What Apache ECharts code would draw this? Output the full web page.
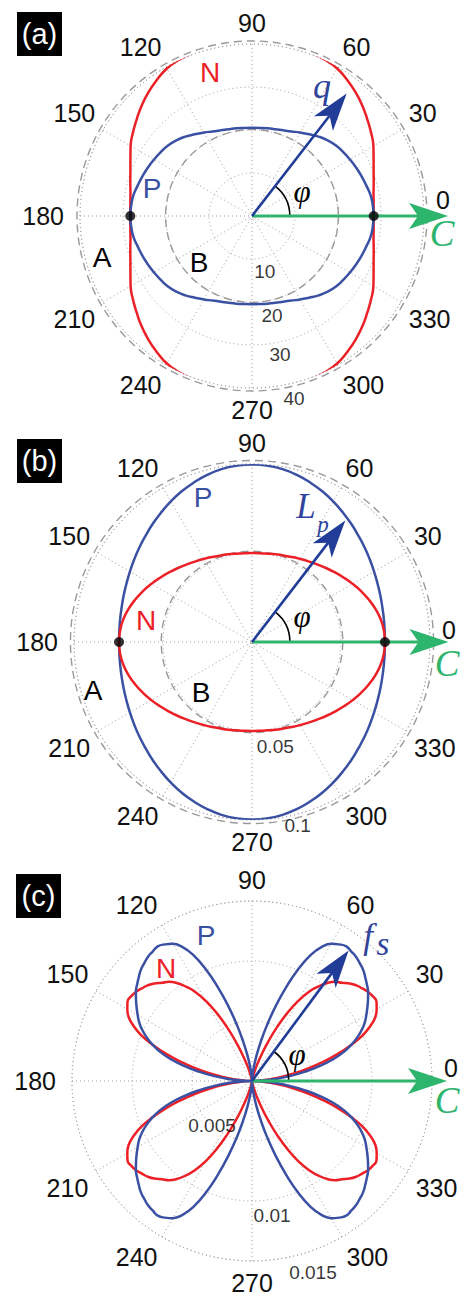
<!DOCTYPE html>
<html>
<head>
<meta charset="utf-8">
<script src="https://cdn.jsdelivr.net/npm/echarts@6/dist/echarts.min.js"></script>
<style>
  html, body { margin: 0; padding: 0; background: #fff; }
  #chart { width: 469px; height: 1297px; }
</style>
</head>
<body>
<div id="chart"></div>
<script>
// Sampling directions (degrees, measured from C) for panels (a) and (b)
const angles = [
  0, 5, 10, 15, 20, 25, 30, 35, 40, 45, 50, 55, 60, 65, 70, 75, 80, 85, 90,
  95, 100, 105, 110, 115, 120, 125, 130, 135, 140, 145, 150, 155, 160, 165, 170, 175, 180,
  185, 190, 195, 200, 205, 210, 215, 220, 225, 230, 235, 240, 245, 250, 255, 260, 265, 270,
  275, 280, 285, 290, 295, 300, 305, 310, 315, 320, 325, 330, 335, 340, 345, 350, 355, 360
];
// Finer directions for the four-lobed panel (c)
const anglesFine = [
  0, 2.5, 5, 7.5, 10, 12.5, 15, 17.5, 20, 22.5, 25, 27.5, 30, 32.5, 35, 37.5, 40, 42.5, 45,
  47.5, 50, 52.5, 55, 57.5, 60, 62.5, 65, 67.5, 70, 72.5, 75, 77.5, 80, 82.5, 85, 87.5, 90,
  92.5, 95, 97.5, 100, 102.5, 105, 107.5, 110, 112.5, 115, 117.5, 120, 122.5, 125, 127.5, 130, 132.5, 135,
  137.5, 140, 142.5, 145, 147.5, 150, 152.5, 155, 157.5, 160, 162.5, 165, 167.5, 170, 172.5, 175, 177.5, 180,
  182.5, 185, 187.5, 190, 192.5, 195, 197.5, 200, 202.5, 205, 207.5, 210, 212.5, 215, 217.5, 220, 222.5, 225,
  227.5, 230, 232.5, 235, 237.5, 240, 242.5, 245, 247.5, 250, 252.5, 255, 257.5, 260, 262.5, 265, 267.5, 270,
  272.5, 275, 277.5, 280, 282.5, 285, 287.5, 290, 292.5, 295, 297.5, 300, 302.5, 305, 307.5, 310, 312.5, 315,
  317.5, 320, 322.5, 325, 327.5, 330, 332.5, 335, 337.5, 340, 342.5, 345, 347.5, 350, 352.5, 355, 357.5, 360
];

// (a) wave vector q
const qN = [
  28.3, 28.4, 28.7, 29.3, 30.1, 31.2, 32.6, 33.8, 35.0, 36.3, 37.5, 38.6, 39.6, 40.1, 40.4, 40.6, 40.8, 40.9, 40.9,
  40.9, 40.8, 40.6, 40.4, 40.1, 39.6, 38.6, 37.5, 36.3, 35.0, 33.8, 32.6, 31.2, 30.1, 29.3, 28.7, 28.4, 28.3,
  28.4, 28.7, 29.3, 30.1, 31.2, 32.6, 33.8, 35.0, 36.3, 37.5, 38.6, 39.6, 40.1, 40.4, 40.6, 40.8, 40.9, 40.9,
  40.9, 40.8, 40.6, 40.4, 40.1, 39.6, 38.6, 37.5, 36.3, 35.0, 33.8, 32.6, 31.2, 30.1, 29.3, 28.7, 28.4, 28.3
];
const qP = [
  28.3, 28.2, 28.0, 27.5, 27.1, 26.7, 26.3, 25.9, 25.5, 24.9, 24.1, 23.2, 22.4, 21.7, 21.2, 20.9, 20.7, 20.55, 20.5,
  20.55, 20.7, 20.9, 21.2, 21.7, 22.4, 23.2, 24.1, 24.9, 25.5, 25.9, 26.3, 26.7, 27.1, 27.5, 28.0, 28.2, 28.3,
  28.2, 28.0, 27.5, 27.1, 26.7, 26.3, 25.9, 25.5, 24.9, 24.1, 23.2, 22.4, 21.7, 21.2, 20.9, 20.7, 20.55, 20.5,
  20.55, 20.7, 20.9, 21.2, 21.7, 22.4, 23.2, 24.1, 24.9, 25.5, 25.9, 26.3, 26.7, 27.1, 27.5, 28.0, 28.2, 28.3
];
const qRefA = 40.7;
const qRefB = 20.1;
const qCross = 28.3;
const qTicks = [10, 20, 30, 40];

// (b) L_p
const lN = [
  0.0747, 0.0744, 0.0734, 0.0718, 0.0698, 0.0676, 0.0653, 0.0630, 0.0608, 0.0588, 0.0569, 0.0553, 0.0539, 0.0527, 0.0517, 0.0510, 0.0504, 0.0501, 0.0500,
  0.0501, 0.0504, 0.0510, 0.0517, 0.0527, 0.0539, 0.0553, 0.0569, 0.0588, 0.0608, 0.0630, 0.0653, 0.0676, 0.0698, 0.0718, 0.0734, 0.0744, 0.0747,
  0.0744, 0.0734, 0.0718, 0.0698, 0.0676, 0.0653, 0.0630, 0.0608, 0.0588, 0.0569, 0.0553, 0.0539, 0.0527, 0.0517, 0.0510, 0.0504, 0.0501, 0.0500,
  0.0501, 0.0504, 0.0510, 0.0517, 0.0527, 0.0539, 0.0553, 0.0569, 0.0588, 0.0608, 0.0630, 0.0653, 0.0676, 0.0698, 0.0718, 0.0734, 0.0744, 0.0747
];
const lP = [
  0.0747, 0.0748, 0.0752, 0.0758, 0.0767, 0.0778, 0.0792, 0.0808, 0.0826, 0.0845, 0.0867, 0.0889, 0.0912, 0.0934, 0.0954, 0.0972, 0.0986, 0.0994, 0.0997,
  0.0994, 0.0986, 0.0972, 0.0954, 0.0934, 0.0912, 0.0889, 0.0867, 0.0845, 0.0826, 0.0808, 0.0792, 0.0778, 0.0767, 0.0758, 0.0752, 0.0748, 0.0747,
  0.0748, 0.0752, 0.0758, 0.0767, 0.0778, 0.0792, 0.0808, 0.0826, 0.0845, 0.0867, 0.0889, 0.0912, 0.0934, 0.0954, 0.0972, 0.0986, 0.0994, 0.0997,
  0.0994, 0.0986, 0.0972, 0.0954, 0.0934, 0.0912, 0.0889, 0.0867, 0.0845, 0.0826, 0.0808, 0.0792, 0.0778, 0.0767, 0.0758, 0.0752, 0.0748, 0.0747
];
const lRefA = 0.102;
const lRefB = 0.051;
const lCross = 0.0747;
const lTicks = [0.05, 0.1];

// (c) f_s, sampled on anglesFine
const fP = [
  0, 0.0008, 0.0020, 0.0032, 0.0045, 0.0058, 0.0070, 0.0080, 0.0088, 0.0095, 0.0101, 0.0106, 0.0110, 0.0114, 0.0118, 0.0122, 0.0125, 0.0128, 0.0131,
  0.0133, 0.0135, 0.0136, 0.0137, 0.0135, 0.0132, 0.0126, 0.0116, 0.0101, 0.0083, 0.0065, 0.0048, 0.0033, 0.0021, 0.0012, 0.0005, 0.0002, 0,
  0.0002, 0.0005, 0.0012, 0.0021, 0.0033, 0.0048, 0.0065, 0.0083, 0.0101, 0.0116, 0.0126, 0.0132, 0.0135, 0.0137, 0.0136, 0.0135, 0.0133, 0.0131,
  0.0128, 0.0125, 0.0122, 0.0118, 0.0114, 0.0110, 0.0106, 0.0101, 0.0095, 0.0088, 0.0080, 0.0070, 0.0058, 0.0045, 0.0032, 0.0020, 0.0008, 0,
  0.0008, 0.0020, 0.0032, 0.0045, 0.0058, 0.0070, 0.0080, 0.0088, 0.0095, 0.0101, 0.0106, 0.0110, 0.0114, 0.0118, 0.0122, 0.0125, 0.0128, 0.0131,
  0.0133, 0.0135, 0.0136, 0.0137, 0.0135, 0.0132, 0.0126, 0.0116, 0.0101, 0.0083, 0.0065, 0.0048, 0.0033, 0.0021, 0.0012, 0.0005, 0.0002, 0,
  0.0002, 0.0005, 0.0012, 0.0021, 0.0033, 0.0048, 0.0065, 0.0083, 0.0101, 0.0116, 0.0126, 0.0132, 0.0135, 0.0137, 0.0136, 0.0135, 0.0133, 0.0131,
  0.0128, 0.0125, 0.0122, 0.0118, 0.0114, 0.0110, 0.0106, 0.0101, 0.0095, 0.0088, 0.0080, 0.0070, 0.0058, 0.0045, 0.0032, 0.0020, 0.0008, 0
];
const fN = [
  0, 0.0006, 0.0014, 0.0024, 0.0035, 0.0048, 0.0061, 0.0075, 0.0088, 0.0100, 0.0109, 0.0116, 0.0120, 0.0123, 0.0123, 0.0122, 0.0120, 0.0118, 0.0115,
  0.0111, 0.0108, 0.0103, 0.0096, 0.0088, 0.0077, 0.0064, 0.0050, 0.0036, 0.0024, 0.0015, 0.0008, 0.0004, 0.0002, 0.0001, 0.0001, 0, 0,
  0, 0.0001, 0.0001, 0.0002, 0.0004, 0.0008, 0.0015, 0.0024, 0.0036, 0.0050, 0.0064, 0.0077, 0.0088, 0.0096, 0.0103, 0.0108, 0.0111, 0.0115,
  0.0118, 0.0120, 0.0122, 0.0123, 0.0123, 0.0120, 0.0116, 0.0109, 0.0100, 0.0088, 0.0075, 0.0061, 0.0048, 0.0035, 0.0024, 0.0014, 0.0006, 0,
  0.0006, 0.0014, 0.0024, 0.0035, 0.0048, 0.0061, 0.0075, 0.0088, 0.0100, 0.0109, 0.0116, 0.0120, 0.0123, 0.0123, 0.0122, 0.0120, 0.0118, 0.0115,
  0.0111, 0.0108, 0.0103, 0.0096, 0.0088, 0.0077, 0.0064, 0.0050, 0.0036, 0.0024, 0.0015, 0.0008, 0.0004, 0.0002, 0.0001, 0.0001, 0, 0,
  0, 0.0001, 0.0001, 0.0002, 0.0004, 0.0008, 0.0015, 0.0024, 0.0036, 0.0050, 0.0064, 0.0077, 0.0088, 0.0096, 0.0103, 0.0108, 0.0111, 0.0115,
  0.0118, 0.0120, 0.0122, 0.0123, 0.0123, 0.0120, 0.0116, 0.0109, 0.0100, 0.0088, 0.0075, 0.0061, 0.0048, 0.0035, 0.0024, 0.0014, 0.0006, 0
];
const fTicks = [0.005, 0.01, 0.015];

// Vectors: [length, direction in degrees]
const qVec = [36.0, 52.3], qAxisC = [45.6, 0];
const lVec = [0.0861, 52.5], lAxisC = [0.1104, 0];
const fVec = [0.01354, 53.5], fAxisC = [0.01625, 0];

// ---------- styling / layout ----------
const RED = '#ec2027';
const BLUE = '#3a51a3';
const ARROW_BLUE = '#213d97';
const GREEN = '#2db46d';
const GRID = '#9c9c9c';
const SANS = '"Liberation Sans", Arial, sans-serif';
const SERIF = '"Liberation Serif", "Times New Roman", serif';

const panels = [
  { center: [252, 216], radius: 172, max: 40, interval: 10, angles: angles,
    N: qN, P: qP, refs: [qRefA, qRefB], cross: qCross, ticks: qTicks,
    tickPos: [[13.25, 283], [23.5, 281.4], [32.8, 281.5], [43.5, 283]],
    vec: qVec, axisC: qAxisC, arcR: 8.8, zeroLift: 32 },
  { center: [252, 642], radius: 178, max: 0.1, interval: 0.05, angles: angles,
    N: lN, P: lP, refs: [lRefA, lRefB], cross: lCross, ticks: lTicks,
    tickPos: [[0.0604, 282.5], [0.1062, 284]],
    vec: lVec, axisC: lAxisC, arcR: 0.0213, zeroLift: 24 },
  { center: [252, 1081], radius: 180, max: 0.015, interval: 0.005, angles: anglesFine,
    N: fN, P: fP, refs: [], cross: null, ticks: fTicks,
    tickPos: [[0.00498, 228], [0.01133, 278.5], [0.01671, 287.7]],
    vec: fVec, axisC: fAxisC, arcR: 0.00306, zeroLift: 27 }
];

function pairs(vals, angs) {
  return angs.map((a, k) => [vals[k], a]);
}

function arrowRenderer(color, width, head, half, notch) {
  return function (params, api) {
    const o = api.coord([0, 0]);
    const t = api.coord([api.value(0), api.value(1)]);
    const dx = t[0] - o[0], dy = t[1] - o[1];
    const len = Math.hypot(dx, dy);
    const ux = dx / len, uy = dy / len;
    const nx = -uy, ny = ux;
    const bx = t[0] - ux * head, by = t[1] - uy * head;
    const mx = t[0] - ux * (head - notch), my = t[1] - uy * (head - notch);
    return {
      type: 'group',
      children: [
        { type: 'line', shape: { x1: o[0], y1: o[1], x2: mx, y2: my },
          style: { stroke: color, lineWidth: width } },
        { type: 'polygon',
          shape: { points: [[t[0], t[1]], [bx + nx * half, by + ny * half], [mx, my], [bx - nx * half, by - ny * half]] },
          style: { fill: color, stroke: null } }
      ]
    };
  };
}

function arcRenderer(params, api) {
  const o = api.coord([0, 0]);
  const p = api.coord([api.value(0), 0]);
  const r = Math.hypot(p[0] - o[0], p[1] - o[1]);
  const ang = api.value(1) * Math.PI / 180;
  return {
    type: 'arc',
    shape: { cx: o[0], cy: o[1], r: r, startAngle: -ang, endAngle: 0, clockwise: true },
    style: { stroke: '#000', lineWidth: 1.6, fill: 'none' }
  };
}

function ringRenderer(params, api) {
  const o = api.coord([0, 0]);
  const p = api.coord([api.value(0), 0]);
  const r = Math.hypot(p[0] - o[0], p[1] - o[1]);
  return {
    type: 'circle',
    shape: { cx: o[0], cy: o[1], r: r },
    style: { stroke: '#9a9a9a', lineWidth: 1.4, lineDash: [8, 5], fill: 'none' }
  };
}

const series = [];
panels.forEach((pn, i) => {
  if (pn.refs.length) {
    series.push({
      type: 'custom', coordinateSystem: 'polar', polarIndex: i, z: 2, silent: true,
      renderItem: ringRenderer, data: pn.refs.map(v => [v, 0])
    });
  }
  const order = i === 1 ? [['P', BLUE], ['N', RED]] : [['N', RED], ['P', BLUE]];
  order.forEach(([key, color]) => {
    series.push({
      type: 'line', coordinateSystem: 'polar', polarIndex: i, z: 3,
      data: pairs(pn[key], pn.angles), smooth: 0.5, showSymbol: false, clip: false,
      lineStyle: { color: color, width: 2.5 }, silent: true
    });
  });
  series.push({
    type: 'custom', coordinateSystem: 'polar', polarIndex: i, z: 4, silent: true,
    renderItem: arcRenderer, data: [[pn.arcR, pn.vec[1]]]
  });
  series.push({
    type: 'custom', coordinateSystem: 'polar', polarIndex: i, z: 5, silent: true,
    renderItem: arrowRenderer(GREEN, 3, 39, 13, 9), data: [pn.axisC]
  });
  series.push({
    type: 'custom', coordinateSystem: 'polar', polarIndex: i, z: 5, silent: true,
    renderItem: arrowRenderer(ARROW_BLUE, 2.6, 38, 12, 10), data: [pn.vec]
  });
  if (pn.cross !== null) {
    series.push({
      type: 'scatter', coordinateSystem: 'polar', polarIndex: i, z: 6, silent: true,
      symbolSize: 10, itemStyle: { color: '#000' }, clip: false,
      data: [[pn.cross, 0], [pn.cross, 180]]
    });
  }
  series.push({
    type: 'scatter', coordinateSystem: 'polar', polarIndex: i, z: 7, silent: true,
    symbolSize: 0, itemStyle: { color: 'transparent' }, clip: false,
    data: pn.ticks.map((t, k) => ({ name: String(t), value: pn.tickPos[k] })),
    label: { show: true, position: 'inside', formatter: p => p.name,
      fontSize: 19, fontFamily: SANS, color: '#000' }
  });
});

function txt(x, y, text, color, size, family, italic) {
  return {
    type: 'text', x: x, y: y, z: 20, silent: true,
    style: {
      text: text, fill: color, align: 'center', verticalAlign: 'middle',
      textAlign: 'center', textVerticalAlign: 'middle',
      font: (italic ? 'italic ' : '') + size + 'px ' + family
    }
  };
}
function tag(x, y, text) {
  return [
    { type: 'rect', z: 20, silent: true, shape: { x: x, y: y, width: 45, height: 44 }, style: { fill: '#000' } },
    txt(x + 22.5, y + 22, text, '#fff', 29, SANS, false)
  ];
}

const graphics = [].concat(
  tag(17, 12, '(a)'),
  [
    txt(210, 72, 'N', RED, 28, SANS),
    txt(152, 188, 'P', BLUE, 28, SANS),
    txt(102, 257, 'A', '#000', 28, SANS),
    txt(199, 262, 'B', '#000', 28, SANS),
    txt(322, 86, 'q', '#30449c', 36, SERIF, true),
    txt(302, 191, 'φ', '#000', 31, SERIF, true),
    txt(442, 233, 'C', GREEN, 37, SERIF, true)
  ],
  tag(17, 439, '(b)'),
  [
    txt(203, 497, 'P', BLUE, 28, SANS),
    txt(146, 620, 'N', RED, 28, SANS),
    txt(93, 690, 'A', '#000', 28, SANS),
    txt(201, 692, 'B', '#000', 28, SANS),
    txt(306, 506, 'L', '#30449c', 35, SERIF, true),
    txt(323, 524, 'p', '#30449c', 23, SERIF, true),
    txt(302, 616, 'φ', '#000', 31, SERIF, true),
    txt(447, 663, 'C', GREEN, 37, SERIF, true)
  ],
  tag(16, 874, '(c)'),
  [
    txt(206, 935, 'P', BLUE, 28, SANS),
    txt(166, 968, 'N', RED, 28, SANS),
    txt(368, 936, 'f', '#30449c', 35, SERIF, true),
    txt(383, 944, 's', '#30449c', 33, SERIF, true),
    txt(297, 1054, 'φ', '#000', 31, SERIF, true),
    txt(447, 1100, 'C', GREEN, 37, SERIF, true)
  ]
);

const option = {
  animation: false,
  backgroundColor: '#fff',
  polar: panels.map(pn => ({ center: pn.center, radius: pn.radius })),
  angleAxis: panels.map((pn, i) => ({
    polarIndex: i, type: 'value', min: 0, max: 360, interval: 30,
    startAngle: 0, clockwise: false,
    axisLine: { show: true, lineStyle: { color: GRID, width: 1, type: [1, 3] } },
    axisTick: { show: false },
    splitLine: { show: true, lineStyle: { color: GRID, width: 1, type: [1, 3] } },
    axisLabel: {
      margin: 9, fontSize: 25, fontFamily: SANS, color: '#111',
      formatter: v => (v === 0 ? '{zero|0}' : v === 180 ? '{half|180}' : String(v)),
      rich: {
        zero: { fontSize: 25, fontFamily: SANS, color: '#111', padding: [0, 0, pn.zeroLift, 3] },
        half: { fontSize: 25, fontFamily: SANS, color: '#111', padding: [0, 7, 0, 0] }
      }
    }
  })),
  radiusAxis: panels.map((pn, i) => ({
    polarIndex: i, type: 'value', min: 0, max: pn.max, interval: pn.interval,
    axisLine: { show: false }, axisTick: { show: false }, axisLabel: { show: false },
    splitLine: { show: true, lineStyle: { color: GRID, width: 1, type: [1, 3] } }
  })),
  series: series,
  graphic: graphics
};

const chart = echarts.init(document.getElementById('chart'), null, { renderer: 'svg', width: 469, height: 1297 });
chart.setOption(option);
</script>
</body>
</html>
